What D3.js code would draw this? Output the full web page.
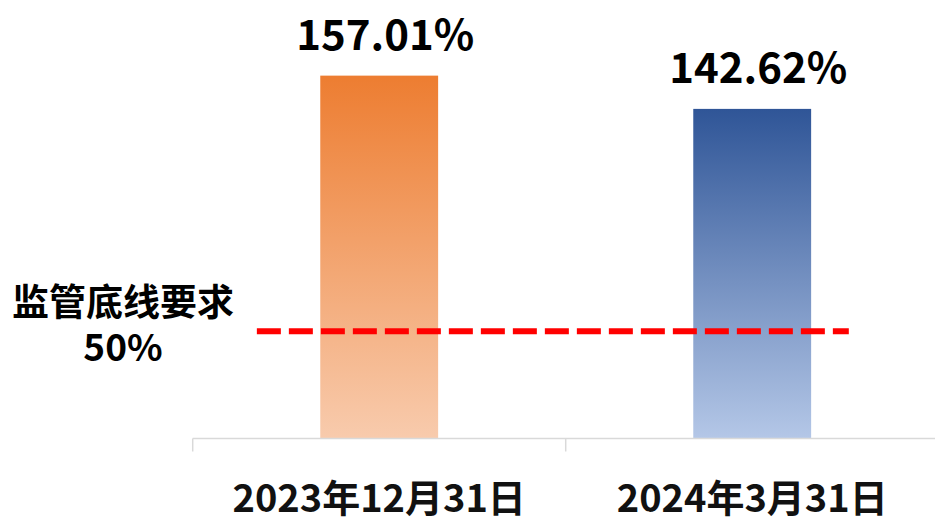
<!DOCTYPE html>
<html>
<head>
<meta charset="utf-8">
<script src="https://cdn.jsdelivr.net/npm/d3@7"></script>
<style>
  html, body { margin: 0; padding: 0; background: #fff; }
  svg { display: block; font-family: "Noto Sans CJK SC", "Noto Sans", sans-serif; }
</style>
</head>
<body>
<div id="chart"></div>
<script>
// data
const categories = ["2023年12月31日", "2024年3月31日"];
const ratios = [157.01, 142.62];
const valueLabels = ["157.01%", "142.62%"];
const floorLabel = ["监管底线要求", "50%"];
// the source draws the floor line a little under its 50 mark
const floorLineValue = 46.4;

const gradients = [
  { id: "gOrange", top: "#ED7D31", bottom: "#F8CBAD" },
  { id: "gBlue", top: "#2F5597", bottom: "#B4C7E7" }
];

const W = 935, H = 518;
const svg = d3.select("#chart").append("svg")
  .attr("width", W)
  .attr("height", H);

const defs = svg.append("defs");
gradients.forEach(g => {
  const lg = defs.append("linearGradient")
    .attr("id", g.id)
    .attr("x1", 0).attr("y1", 0).attr("x2", 0).attr("y2", 1);
  lg.append("stop").attr("offset", "0%").attr("stop-color", g.top);
  lg.append("stop").attr("offset", "100%").attr("stop-color", g.bottom);
});

const x = d3.scaleBand().domain(categories).range([192.7, 938.7]).padding(0);
const y = d3.scaleLinear().domain([0, 180]).range([438.5, 22.5]);
const barW = x.bandwidth() * 0.316;

const data = categories.map((c, i) => ({ cat: c, v: ratios[i], label: valueLabels[i], grad: gradients[i].id }));

// bars
svg.selectAll(".bar")
  .data(data)
  .join("rect")
  .attr("class", "bar")
  .attr("x", d => x(d.cat) + x.bandwidth() / 2 - barW / 2)
  .attr("y", d => y(d.v))
  .attr("width", barW)
  .attr("height", d => y(0) - y(d.v))
  .attr("fill", d => `url(#${d.grad})`);

// value labels
svg.selectAll(".val")
  .data(data)
  .join("text")
  .attr("class", "val")
  .attr("x", d => x(d.cat) + x.bandwidth() / 2 + 6)
  .attr("y", d => y(d.v) - 26)
  .attr("text-anchor", "middle")
  .attr("font-size", 42)
  .attr("font-weight", "bold")
  .attr("fill", "#000")
  .text(d => d.label);

// category axis
const axisG = svg.append("g").attr("transform", `translate(0,${y(0)})`);
axisG.append("line")
  .attr("x1", x.range()[0]).attr("x2", x.range()[1])
  .attr("stroke", "#d9d9d9").attr("stroke-width", 1.5);
const edges = categories.map(c => x(c)).concat([x.range()[1]]);
axisG.selectAll(".tick")
  .data(edges)
  .join("line")
  .attr("x1", d => d).attr("x2", d => d)
  .attr("y1", 0).attr("y2", 13)
  .attr("stroke", "#d9d9d9").attr("stroke-width", 1.5);

svg.selectAll(".cat")
  .data(categories)
  .join("text")
  .attr("class", "cat")
  .attr("x", d => x(d) + x.bandwidth() / 2)
  .attr("y", 512)
  .attr("text-anchor", "middle")
  .attr("font-size", 38)
  .attr("font-weight", "bold")
  .attr("fill", "#111")
  .text(d => d);

// floor line
const step = x.step();
svg.append("line")
  .attr("x1", x(categories[0]) + step * 0.172)
  .attr("x2", x.range()[1] - step * 0.241)
  .attr("y1", y(floorLineValue))
  .attr("y2", y(floorLineValue))
  .attr("stroke", "#FF0000")
  .attr("stroke-width", 6)
  .attr("stroke-dasharray", "24 8");

svg.append("text")
  .attr("x", 123)
  .attr("y", 316)
  .attr("text-anchor", "middle")
  .attr("font-size", 37)
  .attr("font-weight", "bold")
  .attr("fill", "#000")
  .text(floorLabel[0]);
svg.append("text")
  .attr("x", 123)
  .attr("y", 361)
  .attr("text-anchor", "middle")
  .attr("font-size", 37)
  .attr("font-weight", "bold")
  .attr("fill", "#000")
  .text(floorLabel[1]);
</script>
</body>
</html>
